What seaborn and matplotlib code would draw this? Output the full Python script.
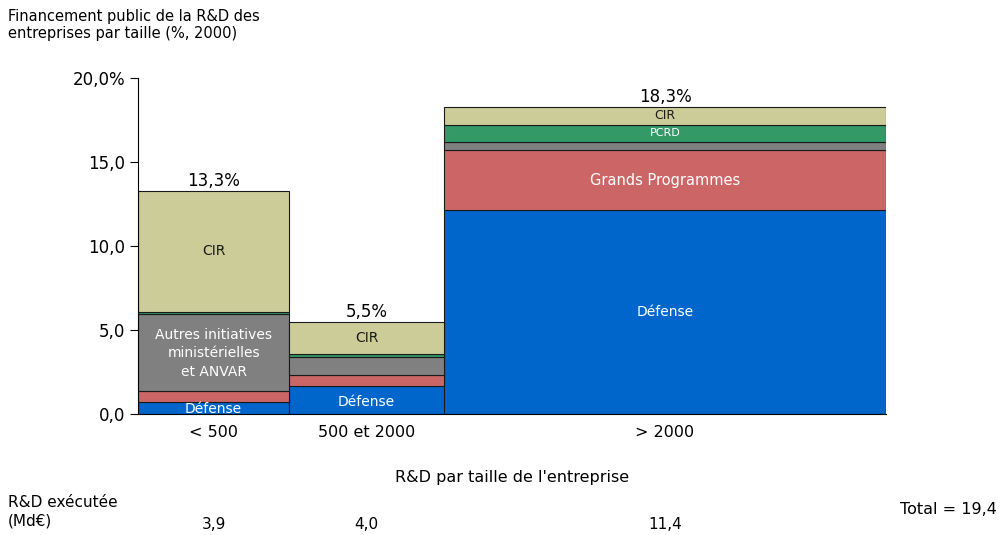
import numpy as np
import pandas as pd
import matplotlib
matplotlib.use("Agg")
import matplotlib.pyplot as plt
import seaborn as sns

# data
categories = ["< 500", "500 et 2000", "> 2000"]
rd_executee = [3.9, 4.0, 11.4]          # Md€, sets the bar widths
rd_labels = ["3,9", "4,0", "11,4"]
sources = ["Défense", "Grands Programmes", "Autres", "PCRD", "CIR"]
defense = [0.70, 1.65, 12.15]
grands_prog = [0.68, 0.65, 3.55]
autres = [4.55, 1.10, 0.50]
pcrd = [0.15, 0.20, 1.00]
cir = [7.22, 1.90, 1.10]
totals = ["13,3%", "5,5%", "18,3%"]
yticks = [0, 5, 10, 15, 20]
ytick_labels = ["0,0", "5,0", "10,0", "15,0", "20,0%"]

colors = {"Défense": "#0066CC", "Grands Programmes": "#CC6666", "Autres": "#808080",
          "PCRD": "#339966", "CIR": "#CCCC99"}

df = pd.DataFrame({"Défense": defense, "Grands Programmes": grands_prog,
                   "Autres": autres, "PCRD": pcrd, "CIR": cir}, index=categories)

sns.set_style("ticks")
plt.rcParams["font.family"] = ["DejaVu Sans"]
plt.rcParams["text.color"] = "black"
plt.rcParams["ytick.color"] = "black"
plt.rcParams["axes.edgecolor"] = "black"

fig = plt.figure(figsize=(10.08, 5.35), dpi=100)
ax = fig.add_axes([0.1369, 0.2262, 0.742, 0.628])

lefts = np.concatenate([[0], np.cumsum(rd_executee)[:-1]])
centers = lefts + np.array(rd_executee) / 2
bottom = np.zeros(len(categories))
for src in sources:
    ax.bar(lefts, df[src].values, width=rd_executee, bottom=bottom, align="edge",
           color=colors[src], edgecolor="#1a1a1a", linewidth=0.8)
    bottom += df[src].values
stack_top = bottom.copy()

# labels inside the segments
def seg_mid(src, i):
    start = df[sources[:sources.index(src)]].iloc[i].sum()
    return start + df[src].iloc[i] / 2

ax.text(centers[0], 0.3, "Défense", ha="center", va="center", color="white", fontsize=10)
ax.text(centers[1], seg_mid("Défense", 1) - 0.1, "Défense", ha="center", va="center", color="white", fontsize=10)
ax.text(centers[2], seg_mid("Défense", 2), "Défense", ha="center", va="center", color="white", fontsize=10)
ax.text(centers[2], seg_mid("Grands Programmes", 2), "Grands Programmes", ha="center", va="center",
        color="white", fontsize=10.5)
ax.text(centers[0], seg_mid("Autres", 0) - 0.05, "Autres initiatives\nministérielles\net ANVAR",
        ha="center", va="center", color="white", fontsize=10, linespacing=1.4)
ax.text(centers[2], seg_mid("PCRD", 2), "PCRD", ha="center", va="center", color="white", fontsize=8)
for i in range(3):
    ax.text(centers[i], seg_mid("CIR", i), "CIR", ha="center", va="center", color="#1a1a1a",
            fontsize=10 if i < 2 else 9)
    ax.text(centers[i], stack_top[i] + 0.02, totals[i], ha="center", va="bottom", fontsize=12)
    ax.text(centers[i], -0.65, categories[i], ha="center", va="top", fontsize=11.5)

ax.set_xlim(0, sum(rd_executee))
ax.set_ylim(0, 20)
ax.set_yticks(yticks)
ax.set_yticklabels(ytick_labels, fontsize=12)
ax.set_xticks([])
ax.tick_params(axis="y", length=6, width=0.8, color="black", pad=3)
sns.despine(ax=ax, top=True, right=True)
ax.spines["left"].set_linewidth(0.8)
ax.spines["bottom"].set_linewidth(0.8)

fig.text(0.008, 0.984, "Financement public de la R&D des\nentreprises par taille (%, 2000)",
         ha="left", va="top", fontsize=10.5, linespacing=1.2)
fig.text(0.508, 0.107, "R&D par taille de l'entreprise", ha="center", va="center", fontsize=11.5)
fig.text(0.008, 0.043, "R&D exécutée\n(Md€)", ha="left", va="center", fontsize=11, linespacing=1.25)
for i in range(3):
    x_fig = 0.1369 + 0.742 * centers[i] / sum(rd_executee)
    fig.text(x_fig, 0.02, rd_labels[i], ha="center", va="center", fontsize=11)
fig.text(0.893, 0.047, "Total = 19,4", ha="left", va="center", fontsize=11.5)

fig.savefig("out.png", dpi=100)
